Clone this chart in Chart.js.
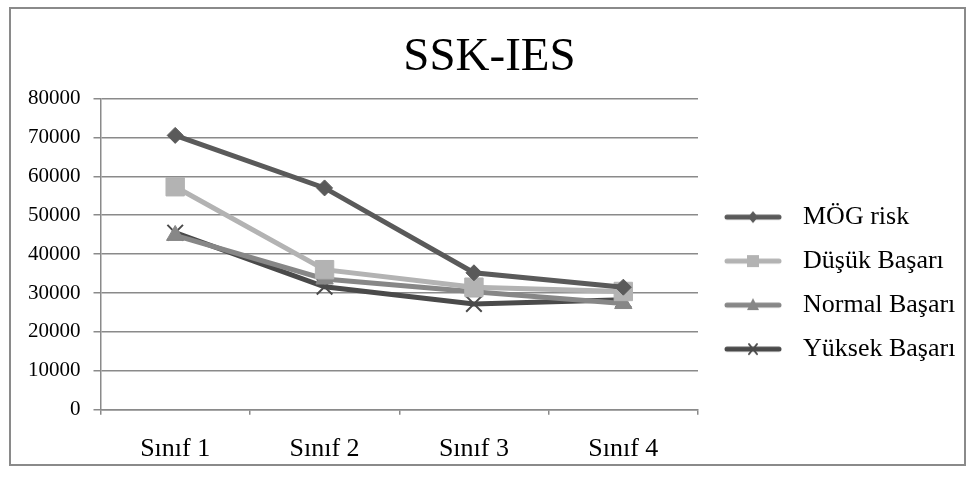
<!DOCTYPE html>
<html>
<head>
<meta charset="utf-8">
<script src="https://cdn.jsdelivr.net/npm/chart.js@4/dist/chart.umd.min.js"></script>
<style>
  body { margin: 0; background: #fff; }
  #frame {
    position: absolute; left: 9px; top: 7px;
    width: 953px; height: 455px;
    border: 2px solid #8a8a8a;
  }
  #frame canvas { display: block; }
</style>
</head>
<body>
<div id="frame"><canvas id="sskChart" width="953" height="455"></canvas></div>
<script>
// === data ===
const categories = ['Sınıf 1', 'Sınıf 2', 'Sınıf 3', 'Sınıf 4'];
const seriesNames = ['MÖG risk', 'Düşük Başarı', 'Normal Başarı', 'Yüksek Başarı'];
const mogRisk = [70500, 57000, 35200, 31500];
const dusukBasari = [57300, 36000, 31500, 30400];
const normalBasari = [44800, 33600, 30300, 27300];
const yuksekBasari = [45500, 31600, 27200, 28300];
const yTicks = [0, 10000, 20000, 30000, 40000, 50000, 60000, 70000, 80000];

const FONT = "'Liberation Serif', 'Times New Roman', serif";
const GRID = '#8a8a8a';

const styles = [
    { color: '#5a5a5a', point: 'rectRot', radius: 8, bw: 1 },
    { color: '#b3b3b3', point: 'rect', radius: 13, bw: 1 },
    { color: '#878787', point: 'triangle', radius: 10, bw: 1 },
    { color: '#4a4a4a', point: 'crossRot', radius: 11, bw: 2 }
];

// small line+marker icons for the legend
function legendIcon(st) {
    const c = document.createElement('canvas');
    c.width = 58; c.height = 16;
    const g = c.getContext('2d');
    g.strokeStyle = st.color; g.fillStyle = st.color;
    g.lineWidth = 5; g.lineCap = 'round';
    g.beginPath(); g.moveTo(3, 8); g.lineTo(55, 8); g.stroke();
    g.lineWidth = 2;
    const x = 29, y = 8;
    if (st.point === 'rectRot') {
        g.beginPath(); g.moveTo(x, y - 6); g.lineTo(x + 5, y); g.lineTo(x, y + 6); g.lineTo(x - 5, y); g.fill();
    } else if (st.point === 'rect') {
        g.fillRect(x - 6, y - 6, 12, 12);
    } else if (st.point === 'triangle') {
        g.beginPath(); g.moveTo(x, y - 7); g.lineTo(x + 6, y + 5); g.lineTo(x - 6, y + 5); g.fill();
    } else {
        g.beginPath(); g.moveTo(x - 4, y - 5); g.lineTo(x + 4, y + 5); g.moveTo(x + 4, y - 5); g.lineTo(x - 4, y + 5); g.stroke();
    }
    return c;
}

const values = [mogRisk, dusukBasari, normalBasari, yuksekBasari];
const datasets = seriesNames.map((name, i) => ({
    label: name,
    data: values[i],
    borderColor: styles[i].color,
    backgroundColor: styles[i].color,
    borderWidth: 5,
    pointStyle: styles[i].point,
    pointRadius: styles[i].radius,
    pointHoverRadius: styles[i].radius,
    pointBorderWidth: styles[i].bw,
    pointBorderColor: styles[i].color,
    pointBackgroundColor: styles[i].color,
    tension: 0,
    fill: false
}));

const icons = styles.map(legendIcon);

new Chart(document.getElementById('sskChart').getContext('2d'), {
    type: 'line',
    data: { labels: categories, datasets: datasets },
    options: {
        responsive: false,
        animation: false,
        layout: { padding: { left: 4, top: 20, right: 0, bottom: -20 } },
        scales: {
            x: {
                offset: true,
                grid: { display: true, drawOnChartArea: false, offset: true, tickLength: 5, color: GRID, lineWidth: 1.5 },
                border: { display: true, color: GRID, width: 1.5 },
                ticks: { color: '#000', padding: 19, font: { family: FONT, size: 26 } }
            },
            y: {
                min: 0, max: 80000,
                afterBuildTicks: axis => { axis.ticks = yTicks.map(v => ({ value: v })); },
                grid: { color: GRID, lineWidth: 1.5, tickLength: 7 },
                border: { display: true, color: GRID, width: 1.5 },
                ticks: { color: '#000', padding: 13, font: { family: FONT, size: 21 }, callback: v => String(v) }
            }
        },
        plugins: {
            title: {
                display: true, text: 'SSK-IES', color: '#000',
                font: { family: FONT, size: 47, weight: 'normal' },
                padding: { top: 0, bottom: 13 }
            },
            legend: {
                position: 'right',
                maxWidth: 266,
                title: { display: true, text: ' ', font: { size: 31 }, padding: 8 },
                labels: {
                    color: '#000',
                    font: { family: FONT, size: 26 },
                    padding: 18,
                    usePointStyle: true,
                    pointStyleWidth: 74,
                    generateLabels: chart => chart.data.datasets.map((ds, i) => ({
                        text: ds.label,
                        pointStyle: icons[i],
                        fillStyle: ds.borderColor,
                        strokeStyle: ds.borderColor,
                        fontColor: '#000',
                        lineWidth: 0,
                        hidden: false,
                        datasetIndex: i
                    }))
                }
            },
            tooltip: { enabled: false }
        }
    }
});
</script>
</body>
</html>
